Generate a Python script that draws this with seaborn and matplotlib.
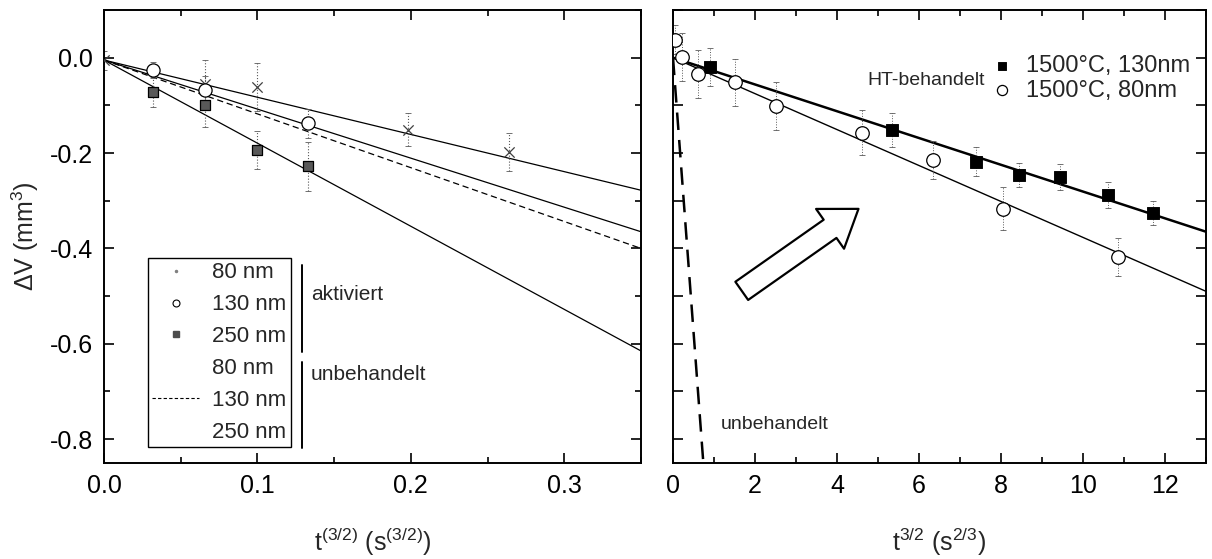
import matplotlib
matplotlib.use('Agg')
import matplotlib.pyplot as plt
from matplotlib.lines import Line2D
from matplotlib.ticker import MultipleLocator
import seaborn as sns

# left panel: activated samples (points) and untreated fits (lines)
akt80_x = [0.0, 0.066, 0.100, 0.198, 0.264]
akt80_y = [-0.005, -0.055, -0.061, -0.151, -0.197]
akt80_err = [0.02, 0.05, 0.05, 0.035, 0.04]

akt130_x = [0.032, 0.066, 0.133]
akt130_y = [-0.025, -0.068, -0.138]
akt130_err = [0.015, 0.03, 0.03]

akt250_x = [0.032, 0.066, 0.100, 0.133]
akt250_y = [-0.073, -0.100, -0.194, -0.228]
akt250_err = [0.03, 0.045, 0.04, 0.052]

fit_x = [0.0, 0.35]
unb80_fit = [-0.005, -0.278]
akt130_fit = [-0.005, -0.365]
unb130_fit = [-0.005, -0.400]
unb250_fit = [-0.005, -0.615]

# right panel: heat treated samples
ht130_x = [0.9, 5.35, 7.4, 8.45, 9.45, 10.6, 11.7]
ht130_y = [-0.019, -0.151, -0.218, -0.246, -0.250, -0.288, -0.326]
ht130_err = [0.04, 0.036, 0.03, 0.025, 0.028, 0.028, 0.025]

ht80_x = [0.05, 0.22, 0.62, 1.5, 2.5, 4.6, 6.35, 8.05, 10.85]
ht80_y = [0.038, 0.002, -0.034, -0.052, -0.102, -0.157, -0.214, -0.317, -0.418]
ht80_err = [0.03, 0.05, 0.05, 0.05, 0.05, 0.048, 0.04, 0.045, 0.04]

ht_fit_x = [0.0, 13.0]
ht130_fit = [0.0, -0.365]
ht80_fit = [0.0, -0.49]
unb_fit_x = [0.0, 0.74]
unb_fit_y = [0.0, -0.85]

sns.set_theme(style='ticks')
plt.rcParams['font.family'] = ['Liberation Sans', 'DejaVu Sans']
plt.rcParams['mathtext.fontset'] = 'custom'
plt.rcParams['mathtext.rm'] = 'Liberation Sans'
plt.rcParams['mathtext.it'] = 'Liberation Sans'
plt.rcParams['axes.linewidth'] = 1.4
plt.rcParams['axes.edgecolor'] = 'black'

W, H = 1212, 559
fig = plt.figure(figsize=(W / 100, H / 100), dpi=100)
ax1 = fig.add_axes([104 / W, 1 - 463 / H, (641 - 104) / W, (463 - 10) / H])
ax2 = fig.add_axes([673 / W, 1 - 463 / H, (1206 - 673) / W, (463 - 10) / H])


def dotted_errors(ax, x, y, err, lw=0.8, color='0.35'):
    eb = ax.errorbar(x, y, yerr=err, fmt='none', ecolor=color, elinewidth=lw,
                     capsize=2, capthick=0.6, zorder=2)
    eb[2][0].set_linestyle(':')


def style_axes(ax):
    ax.tick_params(which='both', direction='in', top=True, right=True,
                   labelsize=18, width=1.2, colors='black')
    ax.tick_params(which='major', length=7, pad=8)
    ax.tick_params(which='minor', length=4)
    for s in ax.spines.values():
        s.set_visible(True)
        s.set_color('black')


# ---- left panel ----
ax = ax1
sns.lineplot(x=fit_x, y=unb80_fit, ax=ax, color='black', lw=0.9)
sns.lineplot(x=fit_x, y=akt130_fit, ax=ax, color='black', lw=0.9)
sns.lineplot(x=fit_x, y=unb130_fit, ax=ax, color='black', lw=0.9, linestyle=(0, (5, 3)))
sns.lineplot(x=fit_x, y=unb250_fit, ax=ax, color='black', lw=0.9)

dotted_errors(ax, akt80_x, akt80_y, akt80_err)
dotted_errors(ax, akt130_x, akt130_y, akt130_err)
dotted_errors(ax, akt250_x, akt250_y, akt250_err)

sns.scatterplot(x=akt80_x, y=akt80_y, ax=ax, marker='x', s=55, color='0.25',
                linewidth=0.9, zorder=3)
sns.scatterplot(x=akt130_x, y=akt130_y, ax=ax, marker='o', s=90, facecolor='white',
                edgecolor='black', linewidth=0.9, zorder=3)
sns.scatterplot(x=akt250_x, y=akt250_y, ax=ax, marker='s', s=55, color='0.35',
                edgecolor='black', linewidth=0.9, zorder=3)

ax.set_xlim(0, 0.35)
ax.set_ylim(-0.85, 0.1)
ax.xaxis.set_major_locator(MultipleLocator(0.1))
ax.xaxis.set_minor_locator(MultipleLocator(0.05))
ax.yaxis.set_major_locator(MultipleLocator(0.2))
ax.yaxis.set_minor_locator(MultipleLocator(0.1))
ax.xaxis.set_major_formatter(plt.FuncFormatter(lambda v, p: f'{v:.1f}'))
ax.yaxis.set_major_formatter(plt.FuncFormatter(lambda v, p: f'{v:.1f}'))
style_axes(ax)
ax.set_xlabel(r'$\mathregular{t^{(3/2)}\ (s^{(3/2)})}$', fontsize=18, labelpad=20)
ax.set_ylabel(r'$\Delta$V (mm$^3$)', fontsize=18, labelpad=6)

handles = [
    Line2D([], [], ls='none', marker='.', ms=3, color='0.5'),
    Line2D([], [], ls='none', marker='o', ms=5, mfc='white', mec='black', mew=0.8),
    Line2D([], [], ls='none', marker='s', ms=5, color='0.3'),
    Line2D([], [], color='none'),
    Line2D([], [], color='black', lw=0.8, linestyle=(0, (3, 2))),
    Line2D([], [], color='none'),
]
labels = ['80 nm', '130 nm', '250 nm', '80 nm', '130 nm', '250 nm']
leg = ax.legend(handles, labels, loc='upper left', bbox_to_anchor=(0.082, 0.4525),
                borderaxespad=0, fontsize=16, handlelength=2.1, handletextpad=0.6,
                labelspacing=0.49, borderpad=0.2, fancybox=False, framealpha=1)
leg.get_frame().set_edgecolor('black')
leg.get_frame().set_linewidth(1.0)

ax.plot([0.369, 0.369], [0.437, 0.245], transform=ax.transAxes, color='black',
        lw=1.4, clip_on=False)
ax.plot([0.369, 0.369], [0.223, 0.033], transform=ax.transAxes, color='black',
        lw=1.4, clip_on=False)
ax.text(0.385, 0.371, 'aktiviert', transform=ax.transAxes, fontsize=15, va='center')
ax.text(0.385, 0.196, 'unbehandelt', transform=ax.transAxes, fontsize=15, va='center')

# ---- right panel ----
ax = ax2
sns.lineplot(x=ht_fit_x, y=ht130_fit, ax=ax, color='black', lw=1.8)
sns.lineplot(x=ht_fit_x, y=ht80_fit, ax=ax, color='black', lw=1.0)
sns.lineplot(x=unb_fit_x, y=unb_fit_y, ax=ax, color='black', lw=1.8,
             linestyle=(0, (7, 4)))

dotted_errors(ax, ht130_x, ht130_y, ht130_err, lw=0.7)
dotted_errors(ax, ht80_x, ht80_y, ht80_err, lw=0.7)

sns.scatterplot(x=ht130_x, y=ht130_y, ax=ax, marker='s', s=65, color='black',
                edgecolor='black', zorder=3, label='1500°C, 130nm')
sns.scatterplot(x=ht80_x, y=ht80_y, ax=ax, marker='o', s=95, facecolor='white',
                edgecolor='black', linewidth=0.9, zorder=3, label='1500°C, 80nm')

ax.set_xlim(0, 13)
ax.set_ylim(-0.85, 0.1)
ax.xaxis.set_major_locator(MultipleLocator(2))
ax.xaxis.set_minor_locator(MultipleLocator(1))
ax.yaxis.set_major_locator(MultipleLocator(0.1))
style_axes(ax)
ax.tick_params(labelleft=False)
ax.set_xlabel(r'$\mathregular{t^{3/2}\ (s^{2/3})}$', fontsize=18, labelpad=20)

leg2 = ax.legend(loc='upper left', bbox_to_anchor=(0.595, 0.9), borderaxespad=0,
                 frameon=False, fontsize=17, handlelength=1.0, handletextpad=0.5,
                 labelspacing=0.1, borderpad=0, markerscale=0.75)

ax.text(0.364, 0.845, 'HT-behandelt', transform=ax.transAxes, fontsize=14, va='center')
ax.text(0.09, 0.086, 'unbehandelt', transform=ax.transAxes, fontsize=14, va='center')

ax.annotate('', xy=(0.348, 0.561), xytext=(0.129, 0.380),
            xycoords='axes fraction', textcoords='axes fraction',
            arrowprops=dict(arrowstyle='simple,head_length=1.25,head_width=1.75,tail_width=0.8',
                            fc='white', ec='black', lw=1.6, mutation_scale=20,
                            shrinkA=0, shrinkB=0))

fig.savefig('out.png', dpi=100)
plt.close(fig)
